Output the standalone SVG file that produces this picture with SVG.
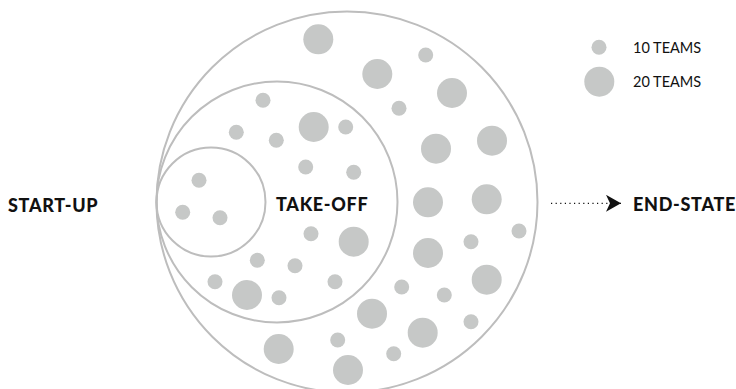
<svg xmlns="http://www.w3.org/2000/svg" width="736" height="389" viewBox="0 0 736 389">
<style>
.ring{fill:none;stroke:#bdbdbd;stroke-width:2}
.d{fill:#c6c8c7}
.lbl{font-family:Lato,"Liberation Sans",sans-serif;font-weight:900;font-size:18px;letter-spacing:0.7px;fill:#111}
.leg{font-family:Lato,"Liberation Sans",sans-serif;font-size:14.5px;fill:#111}
</style>
<defs>
<marker id="ah" markerWidth="16" markerHeight="17" refX="15" refY="8.5" orient="auto" markerUnits="userSpaceOnUse">
<path d="M0,0 L15,8.5 L0,17 L4,8.5 Z" fill="#111"/>
</marker>
</defs>
<rect width="736" height="389" fill="#fff"/>
<g id="end-state">
<circle class="ring" cx="347" cy="202" r="190.5"/>
<g class="dots">
<circle class="d" cx="318.3" cy="39.3" r="15"/>
<circle class="d" cx="425.7" cy="55" r="7.5"/>
<circle class="d" cx="377.3" cy="74" r="15"/>
<circle class="d" cx="452" cy="93" r="15"/>
<circle class="d" cx="399" cy="108.3" r="7.5"/>
<circle class="d" cx="436" cy="148.7" r="15"/>
<circle class="d" cx="492" cy="140.7" r="15"/>
<circle class="d" cx="428" cy="202.3" r="15"/>
<circle class="d" cx="486.7" cy="199.3" r="15"/>
<circle class="d" cx="519" cy="231" r="7.5"/>
<circle class="d" cx="471" cy="241.7" r="7.5"/>
<circle class="d" cx="428" cy="253" r="15"/>
<circle class="d" cx="401.7" cy="287" r="7.5"/>
<circle class="d" cx="444.3" cy="295" r="7.5"/>
<circle class="d" cx="486.7" cy="279.7" r="15"/>
<circle class="d" cx="372" cy="313.7" r="15"/>
<circle class="d" cx="471" cy="321.7" r="7.5"/>
<circle class="d" cx="422.7" cy="332.7" r="15"/>
<circle class="d" cx="278.7" cy="349" r="15"/>
<circle class="d" cx="337.7" cy="340" r="7.5"/>
<circle class="d" cx="393.7" cy="353.7" r="7.5"/>
<circle class="d" cx="348" cy="370" r="15"/>
</g>
</g>
<g id="take-off">
<circle class="ring" cx="277" cy="202" r="120.5"/>
<circle class="d" cx="263" cy="100.3" r="7.5"/>
<circle class="d" cx="236.3" cy="132.3" r="7.5"/>
<circle class="d" cx="276.3" cy="140.3" r="7.5"/>
<circle class="d" cx="313.7" cy="127" r="15"/>
<circle class="d" cx="345.7" cy="127" r="7.5"/>
<circle class="d" cx="305.7" cy="167" r="7.5"/>
<circle class="d" cx="353.7" cy="172.3" r="7.5"/>
<circle class="d" cx="311" cy="233.7" r="7.5"/>
<circle class="d" cx="353.7" cy="241.7" r="15"/>
<circle class="d" cx="257.3" cy="260.3" r="7.5"/>
<circle class="d" cx="295" cy="265.7" r="7.5"/>
<circle class="d" cx="215" cy="281.7" r="7.5"/>
<circle class="d" cx="247" cy="295" r="15"/>
<circle class="d" cx="279" cy="297.7" r="7.5"/>
<circle class="d" cx="335" cy="281.7" r="7.5"/>
<text class="lbl" x="276" y="211">TAKE-OFF</text>
</g>
<g id="start-up">
<circle class="ring" cx="211" cy="202" r="54.5"/>
<circle class="d" cx="199" cy="180.3" r="7.5"/>
<circle class="d" cx="182.7" cy="212.3" r="7.5"/>
<circle class="d" cx="220" cy="217.7" r="7.5"/>
</g>
<g id="start-up-label">
<text class="lbl" x="8" y="211.5">START-UP</text>
</g>
<g id="end-state-label">
<text class="lbl" x="633" y="210.5">END-STATE</text>
</g>
<g id="legend">
<circle class="d" cx="599" cy="47.3" r="7.5"/>
<circle class="d" cx="599.3" cy="81.7" r="15"/>
<text class="leg" x="633" y="53.3">10 TEAMS</text>
<text class="leg" x="633" y="87.3">20 TEAMS</text>
</g>
<g id="connectors">
<line x1="551" y1="203.3" x2="621" y2="203.3" stroke="#111" stroke-width="1.2" stroke-dasharray="1.2 3.4" marker-end="url(#ah)"/>
</g>
</svg>
